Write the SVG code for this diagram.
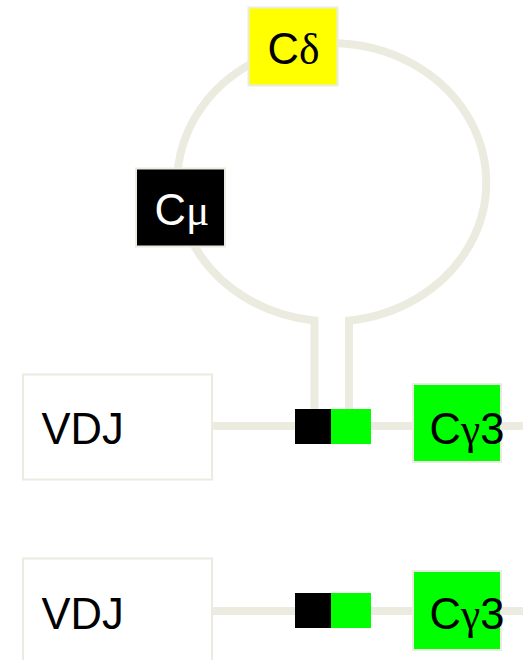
<svg xmlns="http://www.w3.org/2000/svg" width="528" height="660" viewBox="0 0 528 660">
<style>
.wire{fill:none;stroke:#ecebe0;stroke-width:8;stroke-linejoin:miter}
.box{stroke:#ecebe0;stroke-width:2}
.lbl{font-family:"Liberation Sans",Arial,sans-serif;font-size:43.5px}
.gr{font-family:"Liberation Serif","Times New Roman",serif}
</style>
<rect width="528" height="660" fill="#ffffff"/>
<g id="connectors">
<path class="wire" d="M314.5 420 L314.5 320.5 A154.5 139 0 1 1 349 320.5 L349 420"/>
<line class="wire" x1="212" y1="426" x2="523" y2="426"/>
<line class="wire" x1="212" y1="611" x2="523" y2="611"/>
</g>
<g id="c-delta">
<rect class="box" x="248.5" y="7.5" width="89" height="78" fill="#ffff00"/>
<text class="lbl" x="267.5" y="63.5" fill="#000">C<tspan class="gr">δ</tspan></text>
</g>
<g id="c-mu">
<rect class="box" x="136" y="168.5" width="89" height="78" fill="#000000"/>
<text class="lbl" x="154.5" y="224.5" fill="#ffffff">C<tspan class="gr">μ</tspan></text>
</g>
<g id="vdj-1">
<rect class="box" x="23" y="374.5" width="189" height="105" fill="#ffffff"/>
<text class="lbl" x="41.5" y="443.5" fill="#000">VDJ</text>
</g>
<g id="switch-1">
<rect x="295" y="409" width="36" height="35" fill="#000000"/>
<rect x="331" y="409" width="40" height="35" fill="#00ff00"/>
</g>
<g id="c-gamma3-1">
<rect class="box" x="413" y="384" width="88" height="78" fill="#00ff00"/>
<text class="lbl" x="429.5" y="443.5" fill="#000">C<tspan class="gr">γ</tspan>3</text>
</g>
<g id="vdj-2">
<rect class="box" x="23" y="558.5" width="189" height="110" fill="#ffffff"/>
<text class="lbl" x="41.5" y="628.5" fill="#000">VDJ</text>
</g>
<g id="switch-2">
<rect x="295" y="593" width="36" height="35" fill="#000000"/>
<rect x="331" y="593" width="40" height="35" fill="#00ff00"/>
</g>
<g id="c-gamma3-2">
<rect class="box" x="413" y="571" width="88" height="79" fill="#00ff00"/>
<text class="lbl" x="429.5" y="628.5" fill="#000">C<tspan class="gr">γ</tspan>3</text>
</g>
</svg>
